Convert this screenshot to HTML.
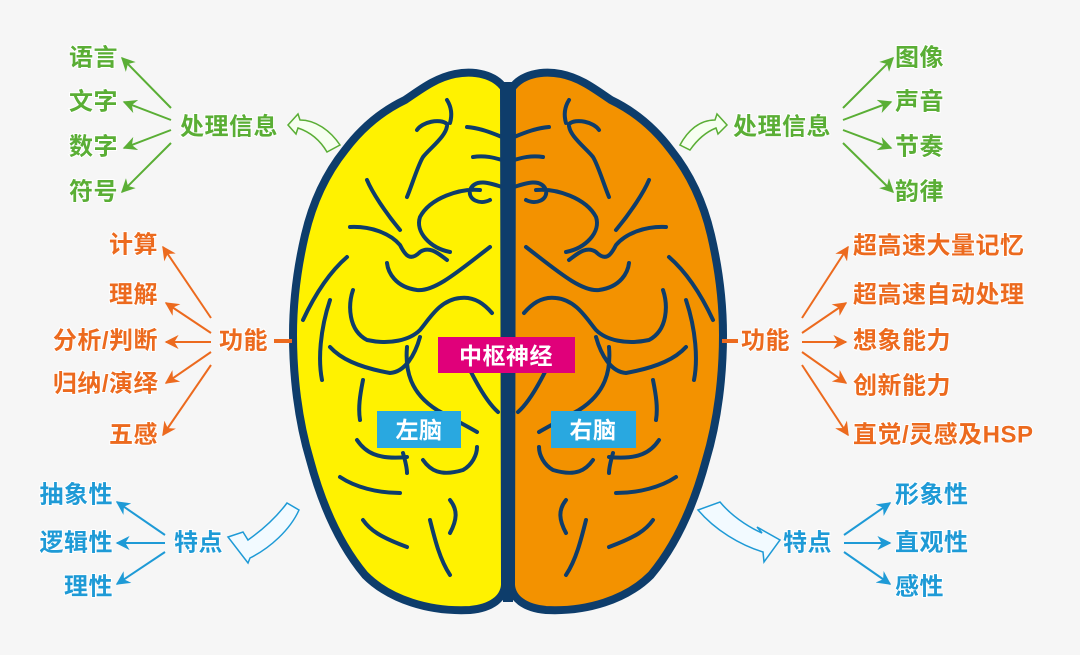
<!DOCTYPE html>
<html><head><meta charset="utf-8"><style>
html,body{margin:0;padding:0;background:#f6f6f6;}
svg{display:block}
text{font-family:"Liberation Sans","Noto Sans CJK SC",sans-serif;font-weight:bold;font-size:24px;letter-spacing:0.5px;paint-order:stroke;stroke:#fff;stroke-width:2px;dominant-baseline:central}
.g{fill:#5aae35}.o{fill:#ec6a1e}.b{fill:#1e9ad6}
.s{fill:none;stroke:#0e3d6b;stroke-width:4;stroke-linecap:round;stroke-linejoin:round}
</style></head><body>
<svg width="1080" height="655" viewBox="0 0 1080 655">
<defs>
<marker id="ag" viewBox="0 0 10 10" refX="9" refY="5" markerWidth="7" markerHeight="7" orient="auto"><path d="M0,0L10,5L0,10L3,5z" fill="#5aae35"/></marker>
<marker id="ao" viewBox="0 0 10 10" refX="9" refY="5" markerWidth="7" markerHeight="7" orient="auto"><path d="M0,0L10,5L0,10L3,5z" fill="#ec6a1e"/></marker>
<marker id="ab" viewBox="0 0 10 10" refX="9" refY="5" markerWidth="7" markerHeight="7" orient="auto"><path d="M0,0L10,5L0,10L3,5z" fill="#1e9ad6"/></marker>
<g id="half">
<path d="M504,88 C495,75 475,70 455,74 C435,78 420,90 405,100 C380,112 360,130 345,150 C325,175 312,205 305,235 C298,265 293,300 293,335 C293,375 298,420 310,460 C322,505 340,545 365,575 C390,600 430,612 470,610 C492,608 504,598 505,585 Z" stroke="#0e3d6b" stroke-width="8" stroke-linejoin="round"/>
<g class="s">
<path d="M447,100 C452,108 452,116 450,123"/>
<path d="M417,130 C422,122 440,118 447,124 C448,135 430,148 423,157 C418,165 412,185 407,197"/>
<path d="M467,127 C480,128 492,133 502,137"/>
<path d="M473,157 C485,155 495,158 502,160"/>
<path d="M367,180 C372,192 385,212 400,230"/>
<path d="M502,187 C490,183 475,178 470,190 C468,200 480,205 490,200 M480,190 C460,188 430,198 420,217 C415,232 430,248 450,252"/>
<path d="M350,227 C370,226 390,233 400,245 C405,255 410,262 420,252 C430,245 440,255 447,260"/>
<path d="M387,263 C388,272 395,287 417,290 C435,292 460,270 490,247"/>
<path d="M347,257 C332,270 317,290 303,320"/>
<path d="M353,290 C348,305 348,330 367,340 C390,345 410,340 420,330 C430,318 440,300 460,298 C475,296 485,305 492,313"/>
<path d="M330,347 C340,358 357,367 390,373 C405,372 415,355 420,337"/>
<path d="M407,347 C405,370 410,393 437,410 C455,420 465,425 477,432"/>
<path d="M363,380 C360,395 358,408 360,420"/>
<path d="M357,440 C365,452 377,460 407,457"/>
<path d="M403,453 C405,460 407,467 407,473"/>
<path d="M423,460 C430,470 440,477 463,470 C472,465 477,455 477,447"/>
<path d="M340,477 C355,487 377,493 400,493"/>
<path d="M450,500 C458,510 457,520 450,533"/>
<path d="M363,520 C370,530 380,537 407,547"/>
<path d="M430,520 C435,540 440,560 450,575"/>
<path d="M330,300 C320,330 318,360 322,380"/>
<path d="M470,370 C480,390 490,405 498,412"/>
</g>
</g>
</defs>
<use href="#half" fill="#fff200"/>
<use href="#half" fill="#f39200" transform="translate(1016,0) scale(-1,1)"/>
<rect x="503" y="82" width="10" height="520" fill="#0e3d6b"/>
<rect x="438" y="337" width="137" height="36" fill="#e0007a"/>
<text x="506" y="356" text-anchor="middle" style="fill:#fff;stroke:none;font-size:23px">中枢神经</text>
<rect x="377" y="411" width="84" height="37" fill="#29a8e0"/>
<text x="419" y="430" text-anchor="middle" style="fill:#fff;stroke:none;font-size:23px">左脑</text>
<rect x="551" y="411" width="85" height="37" fill="#29a8e0"/>
<text x="593" y="430" text-anchor="middle" style="fill:#fff;stroke:none;font-size:23px">右脑</text>

<text class="g" x="118" y="58" text-anchor="end">语言</text>
<text class="g" x="118" y="102" text-anchor="end">文字</text>
<text class="g" x="118" y="147" text-anchor="end">数字</text>
<text class="g" x="118" y="192" text-anchor="end">符号</text>
<text class="g" x="180" y="127">处理信息</text>
<g stroke="#5aae35" stroke-width="2" fill="none">
<line x1="171" y1="108" x2="122" y2="58" marker-end="url(#ag)"/>
<line x1="171" y1="120" x2="124" y2="102" marker-end="url(#ag)"/>
<line x1="171" y1="130" x2="124" y2="148" marker-end="url(#ag)"/>
<line x1="171" y1="143" x2="122" y2="192" marker-end="url(#ag)"/>
</g>
<path d="M288,125 L298,114 L300,120 C315,120 330,130 340,145 L327,152 C320,140 310,132 298,128 L296,134 Z" fill="#f6fff0" stroke="#5aae35" stroke-width="1.5"/>
<text class="g" x="733" y="127">处理信息</text>
<text class="g" x="895" y="58">图像</text>
<text class="g" x="895" y="102">声音</text>
<text class="g" x="895" y="147">节奏</text>
<text class="g" x="895" y="192">韵律</text>
<g stroke="#5aae35" stroke-width="2" fill="none">
<line x1="843" y1="108" x2="893" y2="58" marker-end="url(#ag)"/>
<line x1="843" y1="120" x2="891" y2="102" marker-end="url(#ag)"/>
<line x1="843" y1="130" x2="891" y2="148" marker-end="url(#ag)"/>
<line x1="843" y1="143" x2="893" y2="192" marker-end="url(#ag)"/>
</g>
<path d="M727,125 L717,114 L715,120 C700,120 688,130 680,145 L690,150 C697,140 706,132 716,128 L718,134 Z" fill="#f6fff0" stroke="#5aae35" stroke-width="1.5"/>

<text class="o" x="158" y="245" text-anchor="end">计算</text>
<text class="o" x="158" y="295" text-anchor="end">理解</text>
<text class="o" x="158" y="341" text-anchor="end">分析/判断</text>
<text class="o" x="158" y="384" text-anchor="end">归纳/演绎</text>
<text class="o" x="158" y="435" text-anchor="end">五感</text>
<text class="o" x="219" y="341">功能</text>
<g stroke="#ec6a1e" stroke-width="2" fill="none">
<line x1="211" y1="318" x2="163" y2="247" marker-end="url(#ao)"/>
<line x1="211" y1="333" x2="166" y2="303" marker-end="url(#ao)"/>
<line x1="211" y1="342" x2="166" y2="342" marker-end="url(#ao)"/>
<line x1="211" y1="352" x2="166" y2="383" marker-end="url(#ao)"/>
<line x1="211" y1="365" x2="163" y2="435" marker-end="url(#ao)"/>
<line x1="274" y1="341" x2="292" y2="341" stroke-width="4"/>
</g>
<text class="o" x="741" y="341">功能</text>
<text class="o" x="853" y="246">超高速大量记忆</text>
<text class="o" x="853" y="295">超高速自动处理</text>
<text class="o" x="853" y="341">想象能力</text>
<text class="o" x="853" y="386">创新能力</text>
<text class="o" x="853" y="435">直觉/灵感及HSP</text>
<g stroke="#ec6a1e" stroke-width="2" fill="none">
<line x1="802" y1="318" x2="848" y2="247" marker-end="url(#ao)"/>
<line x1="802" y1="333" x2="846" y2="303" marker-end="url(#ao)"/>
<line x1="802" y1="342" x2="846" y2="342" marker-end="url(#ao)"/>
<line x1="802" y1="352" x2="846" y2="383" marker-end="url(#ao)"/>
<line x1="802" y1="365" x2="848" y2="435" marker-end="url(#ao)"/>
<line x1="722" y1="341" x2="738" y2="341" stroke-width="4"/>
</g>

<text class="b" x="113" y="495" text-anchor="end">抽象性</text>
<text class="b" x="113" y="543" text-anchor="end">逻辑性</text>
<text class="b" x="113" y="587" text-anchor="end">理性</text>
<text class="b" x="174" y="543">特点</text>
<g stroke="#1e9ad6" stroke-width="2" fill="none">
<line x1="165" y1="535" x2="117" y2="502" marker-end="url(#ab)"/>
<line x1="165" y1="543" x2="117" y2="543" marker-end="url(#ab)"/>
<line x1="165" y1="552" x2="117" y2="584" marker-end="url(#ab)"/>
</g>
<path d="M228,537 L243,532 L248,540 C265,528 278,515 287,503 L299,510 C290,530 270,548 250,558 L248,563 Z" fill="#f2faff" stroke="#1e9ad6" stroke-width="1.5"/>
<text class="b" x="783" y="543">特点</text>
<text class="b" x="895" y="495">形象性</text>
<text class="b" x="895" y="543">直观性</text>
<text class="b" x="895" y="587">感性</text>
<g stroke="#1e9ad6" stroke-width="2" fill="none">
<line x1="844" y1="535" x2="890" y2="503" marker-end="url(#ab)"/>
<line x1="844" y1="543" x2="890" y2="543" marker-end="url(#ab)"/>
<line x1="844" y1="552" x2="890" y2="584" marker-end="url(#ab)"/>
</g>
<path d="M698,510 L720,502 C735,520 755,530 762,533 L757,527 L780,540 L764,562 L763,552 C740,545 715,530 698,510 Z" fill="#f2faff" stroke="#1e9ad6" stroke-width="1.5"/>
</svg>
</body></html>
